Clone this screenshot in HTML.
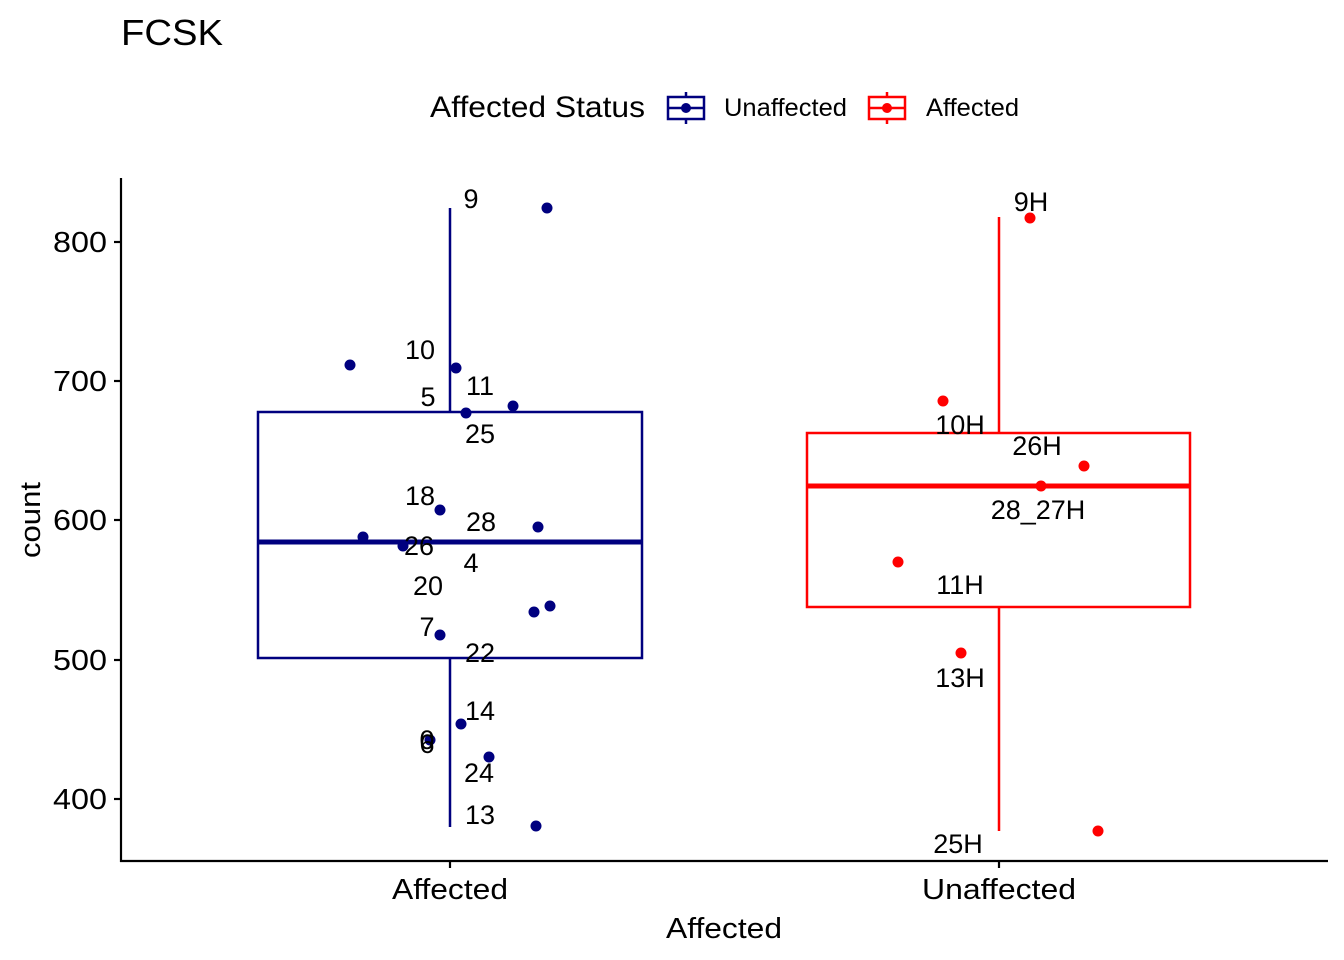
<!DOCTYPE html>
<html><head><meta charset="utf-8"><style>
html,body{margin:0;padding:0;background:#fff;}
svg{display:block;}
text{font-family:"Liberation Sans",Arial,sans-serif;fill:#000;}
</style></head><body>
<svg width="1344" height="960" viewBox="0 0 1344 960" xmlns="http://www.w3.org/2000/svg">
<text x="121" y="45" font-size="36" textLength="102" lengthAdjust="spacingAndGlyphs">FCSK</text>
<!-- legend -->
<text x="430" y="117" font-size="30" textLength="215" lengthAdjust="spacingAndGlyphs">Affected Status</text>
<g stroke="#00007F" stroke-width="2.5" fill="none">
<line x1="686" y1="92" x2="686" y2="124"/><rect x="668" y="97" width="36" height="22" fill="#fff"/><line x1="668" y1="108" x2="704" y2="108"/>
</g><circle cx="686" cy="108" r="5" fill="#00007F"/>
<text x="724" y="116" font-size="25" textLength="123" lengthAdjust="spacingAndGlyphs">Unaffected</text>
<g stroke="#FF0000" stroke-width="2.5" fill="none">
<line x1="887" y1="92" x2="887" y2="124"/><rect x="869" y="97" width="36" height="22" fill="#fff"/><line x1="869" y1="108" x2="905" y2="108"/>
</g><circle cx="887" cy="108" r="5" fill="#FF0000"/>
<text x="926" y="116" font-size="25" textLength="93" lengthAdjust="spacingAndGlyphs">Affected</text>
<!-- axes -->
<g stroke="#000" stroke-width="2.2">
<line x1="121" y1="178" x2="121" y2="862"/><line x1="120" y1="861" x2="1328" y2="861"/>
<line x1="114" y1="242" x2="121" y2="242"/><line x1="114" y1="381" x2="121" y2="381"/><line x1="114" y1="520" x2="121" y2="520"/><line x1="114" y1="660" x2="121" y2="660"/><line x1="114" y1="799" x2="121" y2="799"/>
<line x1="450" y1="861" x2="450" y2="868"/><line x1="999" y1="861" x2="999" y2="868"/>
</g>
<g font-size="29">
<text x="53" y="252" textLength="54" lengthAdjust="spacingAndGlyphs">800</text><text x="53" y="391" textLength="54" lengthAdjust="spacingAndGlyphs">700</text><text x="53" y="530" textLength="54" lengthAdjust="spacingAndGlyphs">600</text><text x="53" y="670" textLength="54" lengthAdjust="spacingAndGlyphs">500</text><text x="53" y="809" textLength="54" lengthAdjust="spacingAndGlyphs">400</text>
<text x="392" y="899" textLength="116" lengthAdjust="spacingAndGlyphs">Affected</text><text x="922" y="899" textLength="154" lengthAdjust="spacingAndGlyphs">Unaffected</text>
<text x="666" y="938" textLength="116" lengthAdjust="spacingAndGlyphs">Affected</text>
</g>
<text transform="translate(40,558) rotate(-90)" font-size="29" textLength="76" lengthAdjust="spacingAndGlyphs">count</text>
<!-- left box -->
<g stroke="#00007F" stroke-width="2.5" fill="none">
<line x1="450" y1="208" x2="450" y2="412"/><line x1="450" y1="658" x2="450" y2="827"/>
<rect x="258" y="412" width="384" height="246"/>
<line x1="258" y1="542" x2="642" y2="542" stroke-width="5"/>
</g>
<!-- right box -->
<g stroke="#FF0000" stroke-width="2.5" fill="none">
<line x1="999" y1="217" x2="999" y2="433"/><line x1="999" y1="607" x2="999" y2="831"/>
<rect x="807" y="433" width="383" height="174"/>
<line x1="807" y1="486" x2="1190" y2="486" stroke-width="5"/>
</g>
<g fill="#00007F">
<circle cx="547" cy="208" r="5.5"/><circle cx="350" cy="365" r="5.5"/><circle cx="456" cy="368" r="5.5"/><circle cx="513" cy="406" r="5.5"/><circle cx="466" cy="413" r="5.5"/><circle cx="440" cy="510" r="5.5"/><circle cx="363" cy="537" r="5.5"/><circle cx="538" cy="527" r="5.5"/><circle cx="403" cy="546" r="5.5"/><circle cx="550" cy="606" r="5.5"/><circle cx="534" cy="612" r="5.5"/><circle cx="440" cy="635" r="5.5"/><circle cx="461" cy="724" r="5.5"/><circle cx="430" cy="740" r="5.5"/><circle cx="489" cy="757" r="5.5"/><circle cx="536" cy="826" r="5.5"/>
</g>
<g fill="#FF0000">
<circle cx="1030" cy="218" r="5.5"/><circle cx="943" cy="401" r="5.5"/><circle cx="1084" cy="466" r="5.5"/><circle cx="1041" cy="486" r="5.5"/><circle cx="898" cy="562" r="5.5"/><circle cx="961" cy="653" r="5.5"/><circle cx="1098" cy="831" r="5.5"/>
</g>
<g font-size="27" text-anchor="middle">
<text x="471" y="208">9</text><text x="420" y="359">10</text><text x="480" y="395">11</text><text x="428" y="406">5</text><text x="480" y="443">25</text><text x="420" y="505">18</text><text x="481" y="531">28</text><text x="419" y="555">26</text><text x="471" y="572">4</text><text x="428" y="595">20</text><text x="427" y="636">7</text><text x="480" y="662">22</text><text x="480" y="720">14</text><text x="427" y="749">0</text><text x="427" y="753">6</text><text x="479" y="782">24</text><text x="480" y="824">13</text>
<text x="1031" y="211">9H</text><text x="960" y="434">10H</text><text x="1037" y="455">26H</text><text x="1038" y="519">28_27H</text><text x="960" y="594">11H</text><text x="960" y="687">13H</text><text x="958" y="853">25H</text>
</g>
</svg>
</body></html>
